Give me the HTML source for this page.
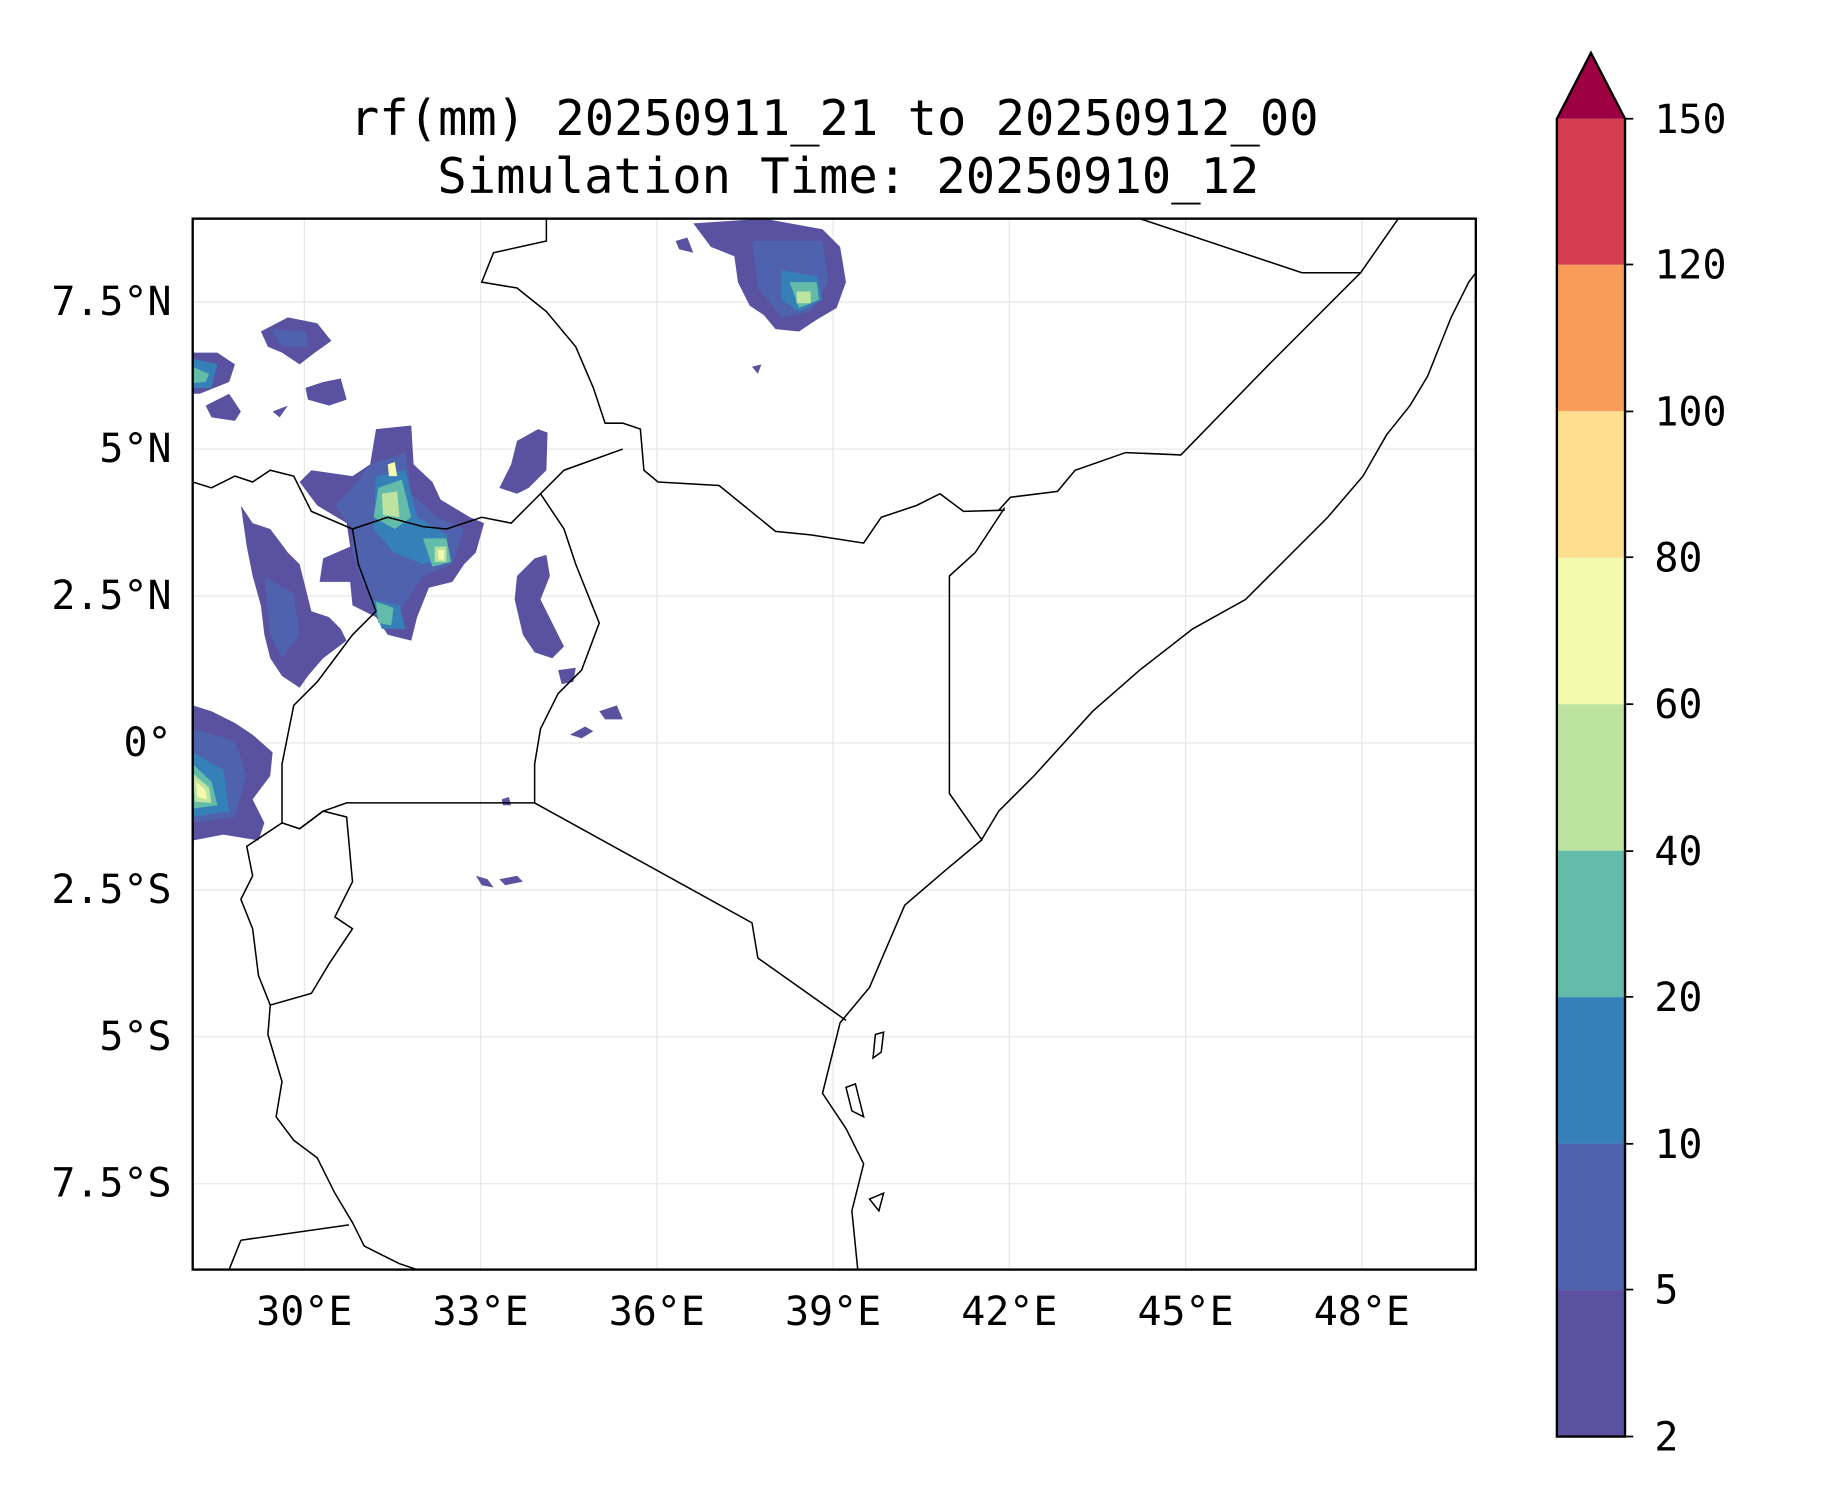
<!DOCTYPE html>
<html><head><meta charset="utf-8"><style>html,body{margin:0;padding:0;background:#fff}svg{display:block}</style></head>
<body>
<svg width="1833" height="1500" viewBox="0 0 1560 1276" preserveAspectRatio="none" xmlns="http://www.w3.org/2000/svg" font-family="'DejaVu Sans Mono','Liberation Mono',monospace">
<rect width="1560" height="1276" fill="#fff"/>
<g font-size="41.5" text-anchor="middle" fill="#000">
<text x="710" y="115">rf(mm) 20250911_21 to 20250912_00</text>
<text x="722" y="164">Simulation Time: 20250910_12</text>
</g>
<defs><clipPath id="c"><rect x="164" y="186" width="1092" height="894"/></clipPath></defs>
<g stroke="#e6e6e6" stroke-width="1">
<line x1="259" y1="186" x2="259" y2="1080"/><line x1="409" y1="186" x2="409" y2="1080"/><line x1="559" y1="186" x2="559" y2="1080"/><line x1="709" y1="186" x2="709" y2="1080"/><line x1="859" y1="186" x2="859" y2="1080"/><line x1="1009" y1="186" x2="1009" y2="1080"/><line x1="1159" y1="186" x2="1159" y2="1080"/>
<line x1="164" y1="257" x2="1256" y2="257"/><line x1="164" y1="382" x2="1256" y2="382"/><line x1="164" y1="507" x2="1256" y2="507"/><line x1="164" y1="632" x2="1256" y2="632"/><line x1="164" y1="757" x2="1256" y2="757"/><line x1="164" y1="882" x2="1256" y2="882"/><line x1="164" y1="1007" x2="1256" y2="1007"/>
</g>
<g clip-path="url(#c)">
<g fill="#5a52a0">
<path d="M320,365 L350,362 L352,395 L368,410 L375,425 L400,440 L412,445 L405,470 L395,480 L385,495 L365,500 L355,525 L350,545 L330,540 L320,525 L300,515 L298,495 L272,495 L275,475 L298,465 L295,445 L270,430 L255,410 L265,400 L300,405 L315,395 Z"/>
<path d="M205,430 L215,445 L230,450 L245,470 L255,480 L260,500 L265,520 L280,525 L290,535 L295,545 L275,560 L262,575 L255,585 L240,575 L230,560 L225,540 L222,515 L215,490 L210,465 Z"/>
<path d="M164,600 L180,605 L200,615 L215,625 L232,640 L230,660 L215,680 L225,700 L220,715 L190,710 L164,715 Z"/>
<path d="M164,300 L185,300 L200,310 L195,325 L170,335 L164,335 Z"/>
<path d="M222,282 L245,270 L270,275 L282,290 L268,300 L255,310 L240,300 L228,295 Z"/>
<path d="M175,345 L195,335 L205,350 L200,358 L180,355 Z"/>
<path d="M260,330 L275,325 L290,322 L295,340 L280,345 L262,340 Z"/>
<path d="M440,375 L458,365 L466,368 L465,400 L450,415 L440,420 L425,415 L435,395 Z"/>
<path d="M440,490 L455,475 L465,472 L468,490 L460,510 L470,530 L480,550 L470,560 L455,555 L445,540 L438,510 Z"/>
<path d="M590,190 L650,186 L700,195 L715,210 L720,240 L712,262 L695,272 L680,282 L660,280 L650,268 L638,260 L628,240 L625,218 L605,210 Z"/>
<path d="M485,625 L498,618 L505,622 L495,628 Z M510,605 L525,600 L530,612 L515,612 Z M405,745 L415,748 L420,755 L410,753 Z M425,748 L440,745 L445,750 L430,753 Z M427,680 L433,678 L435,685 L428,685 Z M475,570 L490,568 L488,580 L478,582 Z M640,312 L648,310 L645,318 Z M575,205 L585,202 L590,215 L578,212 Z M245,345 L238,355 L232,350 Z"/>
</g>
<g fill="#4f62ad">
<path d="M315,395 L345,385 L350,420 L372,440 L395,450 L385,480 L360,490 L340,520 L325,520 L308,495 L300,470 L300,450 L285,430 L300,415 Z"/>
<path d="M225,490 L250,505 L255,540 L240,560 L230,540 Z"/>
<path d="M164,620 L200,630 L210,660 L200,695 L164,700 Z"/>
<path d="M640,205 L700,205 L705,240 L690,265 L665,270 L645,245 Z"/>
<path d="M230,280 L260,282 L262,295 L240,295 Z"/>
</g>
<g fill="#3680b9">
<path d="M320,405 L345,400 L355,440 L380,455 L380,475 L360,480 L335,470 L318,450 Z"/>
<path d="M315,510 L340,515 L345,535 L325,535 Z"/>
<path d="M164,640 L190,655 L195,690 L164,695 Z"/>
<path d="M665,230 L695,235 L700,255 L680,265 L665,255 Z"/>
<path d="M164,305 L185,310 L180,330 L164,330 Z"/>
</g>
<g fill="#62bca9">
<path d="M322,415 L342,408 L350,440 L336,450 L318,440 Z M360,458 L380,458 L384,478 L368,482 Z M320,512 L335,517 L333,532 L322,530 Z M164,650 L180,665 L185,685 L164,688 Z M672,240 L695,240 L697,255 L680,262 Z M164,312 L178,318 L175,325 L164,326 Z"/>
</g>
<g fill="#bde3a0"><path d="M325,420 L338,418 L340,440 L326,438 Z M370,465 L380,465 L380,478 L370,478 Z M164,658 L178,670 L180,683 L166,682 Z M678,248 L690,248 L690,258 L678,258 Z"/></g>
<g fill="#f4faad"><path d="M330,395 L336,393 L338,405 L331,405 Z M373,468 L378,468 L378,476 L373,476 Z M167,665 L175,672 L176,680 L168,678 Z"/></g>
<g fill="none" stroke="#000" stroke-width="1.3">
<polyline points="1256,232 1250,240 1235,270 1215,320 1200,345 1180,370 1160,405 1130,440 1100,470 1060,510 1015,535 970,570 930,605 880,660 850,690 835,715 805,740 770,770 740,840 715,870 700,930 720,960 735,990 725,1030 730,1080"/>
<polyline points="970,186 1108,232 1158,232 1190,186"/>
<polyline points="1158,232 1080,310 1005,387 958,385 915,400 900,418 860,423 850,434"/>
<polyline points="855,432 830,470 808,490 808,675 836,715"/>
<polyline points="855,434 820,435 800,420 780,430 750,440 735,462 690,455 660,452 612,413 560,410 548,400 545,365 530,360 515,360 505,330 490,295 465,265 440,245 410,240 420,215 465,205 465,186"/>
<polyline points="530,382 480,400 455,425 435,445 410,440 380,450 360,448 330,440 300,450 265,435 250,405 230,400 215,410 200,405 180,415 164,410"/>
<polyline points="460,420 480,450 490,480 510,530 495,570 475,590 460,620 455,650 455,683"/>
<polyline points="455,683 640,785 645,815 720,868"/>
<polyline points="455,683 295,683 275,690 255,705 240,700"/>
<polyline points="300,450 305,480 320,520 300,540 270,580 250,600 240,650 240,700"/>
<polyline points="255,705 275,690 295,695 300,750 285,780 300,790 280,820 265,845 230,855 220,830 215,790 205,765 215,745 210,720 240,700"/>
<polyline points="230,855 228,880 240,920 235,950 250,970 270,985 285,1015 300,1040 310,1060 340,1075 355,1080"/>
<polyline points="205,1055 297,1042"/>
<polyline points="205,1055 195,1080"/>
<path d="M745,880 L752,878 L750,895 L743,900 Z M720,925 L728,922 L735,950 L725,945 Z M740,1020 L752,1015 L748,1030 Z"/>
</g>
</g>
<rect x="164" y="186" width="1092" height="894" fill="none" stroke="#000" stroke-width="2"/>
<g font-size="34" fill="#000">
<g text-anchor="middle">
<text x="259" y="1127">30°E</text><text x="409" y="1127">33°E</text><text x="559" y="1127">36°E</text><text x="709" y="1127">39°E</text><text x="859" y="1127">42°E</text><text x="1009" y="1127">45°E</text><text x="1159" y="1127">48°E</text>
</g>
<g text-anchor="end">
<text x="146" y="268">7.5°N</text><text x="146" y="393">5°N</text><text x="146" y="518">2.5°N</text><text x="146" y="643">0°</text><text x="146" y="768">2.5°S</text><text x="146" y="893">5°S</text><text x="146" y="1018">7.5°S</text>
</g>
</g>
<g stroke="none">
<rect x="1325" y="1097.4" width="58" height="124.6" fill="#5a52a0"/>
<rect x="1325" y="972.8" width="58" height="124.6" fill="#4f62ad"/>
<rect x="1325" y="848.2" width="58" height="124.6" fill="#3680b9"/>
<rect x="1325" y="723.6" width="58" height="124.6" fill="#62bca9"/>
<rect x="1325" y="599" width="58" height="124.6" fill="#bde3a0"/>
<rect x="1325" y="474.4" width="58" height="124.6" fill="#f4faad"/>
<rect x="1325" y="349.8" width="58" height="124.6" fill="#fddd8e"/>
<rect x="1325" y="225.2" width="58" height="124.6" fill="#f99c5a"/>
<rect x="1325" y="101" width="58" height="124.2" fill="#d53e4f"/>
<polygon points="1325,101 1354,45 1383,101" fill="#9e0142"/>
</g>
<polygon points="1325,101 1354,45 1383,101 1383,1222 1325,1222" fill="none" stroke="#000" stroke-width="2"/>
<g stroke="#000" stroke-width="1.5">
<line x1="1383" y1="101" x2="1390" y2="101"/><line x1="1383" y1="225" x2="1390" y2="225"/><line x1="1383" y1="350" x2="1390" y2="350"/><line x1="1383" y1="474" x2="1390" y2="474"/><line x1="1383" y1="599" x2="1390" y2="599"/><line x1="1383" y1="724" x2="1390" y2="724"/><line x1="1383" y1="848" x2="1390" y2="848"/><line x1="1383" y1="973" x2="1390" y2="973"/><line x1="1383" y1="1097" x2="1390" y2="1097"/><line x1="1383" y1="1222" x2="1390" y2="1222"/>
</g>
<g font-size="34" fill="#000">
<text x="1408" y="113">150</text><text x="1408" y="237">120</text><text x="1408" y="362">100</text><text x="1408" y="486">80</text><text x="1408" y="611">60</text><text x="1408" y="736">40</text><text x="1408" y="860">20</text><text x="1408" y="985">10</text><text x="1408" y="1109">5</text><text x="1408" y="1234">2</text>
</g>
</svg>
</body></html>
